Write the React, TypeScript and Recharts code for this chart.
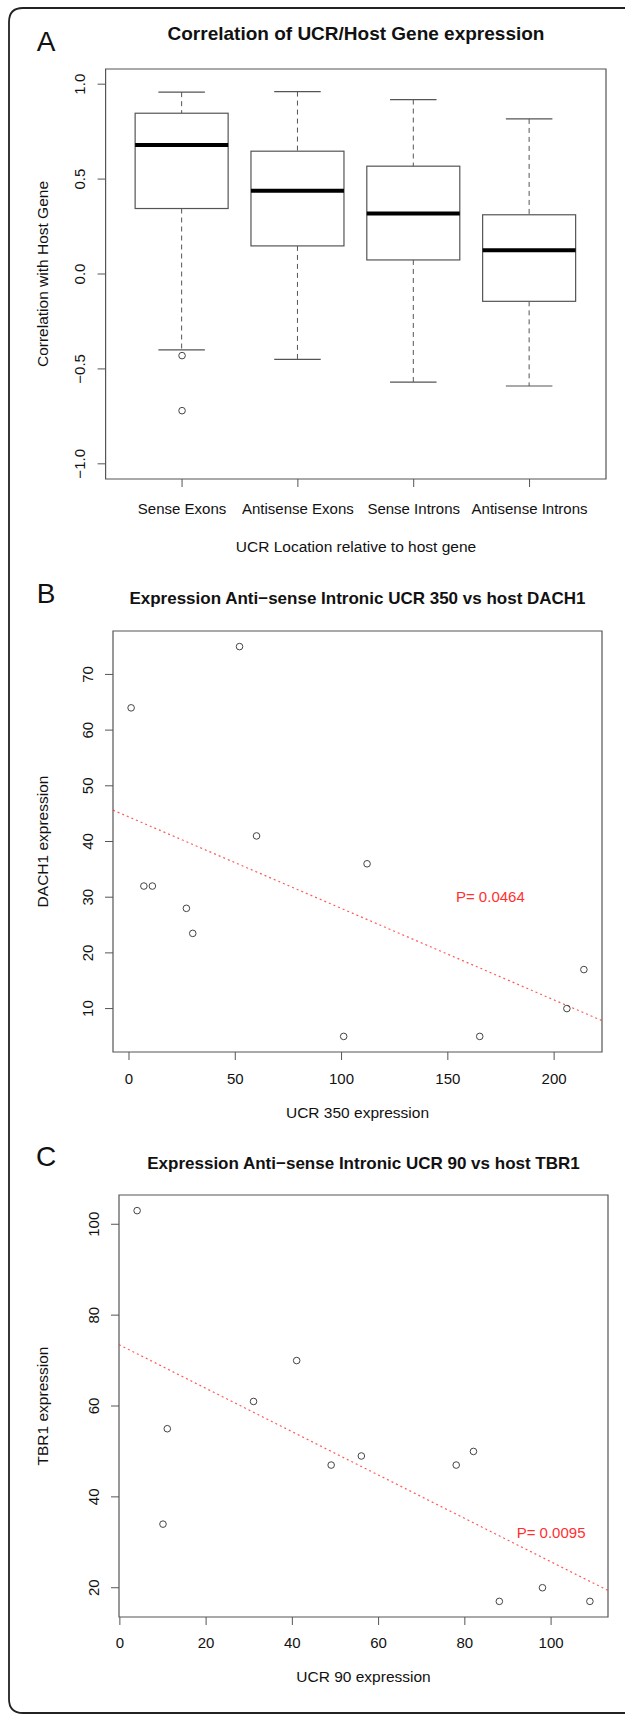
import React from "react";
import {
  ComposedChart,
  ScatterChart,
  Bar,
  Scatter,
  XAxis,
  YAxis,
  ReferenceArea,
  ReferenceLine,
  ReferenceDot,
} from "recharts";

const FONT = "'Liberation Sans', Arial, Helvetica, sans-serif";
const INK = "#111";
const FRAME = "#555";
const RED = "#ff3030";
const TICK_SIZE = 15;
const LABEL_SIZE = 15.5;

// panel A: correlation with host gene, by UCR location
const locations = ["Sense Exons", "Antisense Exons", "Sense Introns", "Antisense Introns"];
const whiskerLow = [-0.4, -0.45, -0.57, -0.59];
const quartile1 = [0.345, 0.148, 0.074, -0.144];
const medians = [0.68, 0.438, 0.319, 0.125];
const quartile3 = [0.847, 0.647, 0.568, 0.312];
const whiskerHigh = [0.958, 0.961, 0.919, 0.817];
const outlierGroup = [1, 1];
const outlierCorr = [-0.43, -0.72];
const corrTicks = [-1, -0.5, 0, 0.5, 1];

// panel B: UCR 350 vs DACH1
const ucr350 = [1, 52, 60, 112, 7, 11, 27, 30, 101, 165, 206, 214];
const dach1 = [64, 75, 41, 36, 32, 32, 28, 23.5, 5, 5, 10, 17];
const ucr350Ticks = [0, 50, 100, 150, 200];
const dach1Ticks = [10, 20, 30, 40, 50, 60, 70];
const fitB = { intercept: 44.4, slope: -0.1643 };
const pB = { label: "P= 0.0464", x: 170, y: 30 };

// panel C: UCR 90 vs TBR1
const ucr90 = [4, 41, 31, 11, 49, 56, 78, 82, 10, 88, 98, 109];
const tbr1 = [103, 70, 61, 55, 47, 49, 47, 50, 34, 17, 20, 17];
const ucr90Ticks = [0, 20, 40, 60, 80, 100];
const tbr1Ticks = [20, 40, 60, 80, 100];
const fitC = { intercept: 73.4, slope: -0.477 };
const pC = { label: "P= 0.0095", x: 100, y: 32 };

// R pads the axis range by 4% on each side
const rRange = (vals: number[]): [number, number] => {
  const lo = Math.min(...vals);
  const hi = Math.max(...vals);
  const pad = (hi - lo) * 0.04;
  return [lo - pad, hi + pad];
};

const minus = (s: string) => s.replace("-", "\u2212");

const boxRows = locations.map((name, i) => ({
  pos: i + 1,
  name,
  low: whiskerLow[i],
  q1: quartile1[i],
  med: medians[i],
  q3: quartile3[i],
  high: whiskerHigh[i],
}));
const outlierRows = outlierGroup.map((g, i) => ({ pos: g, corr: outlierCorr[i] }));

const SideTick = (props: any) => {
  const { x, y, payload, fmt } = props;
  return (
    <text
      x={x}
      y={y}
      transform={`rotate(-90 ${x} ${y})`}
      textAnchor="middle"
      fontFamily={FONT}
      fontSize={TICK_SIZE}
      fill={INK}
    >
      {fmt(payload.value)}
    </text>
  );
};

const BottomTick = (props: any) => {
  const { x, y, payload, fmt } = props;
  return (
    <text x={x} y={y} dy="0.71em" textAnchor="middle" fontFamily={FONT} fontSize={TICK_SIZE} fill={INK}>
      {fmt(payload.value)}
    </text>
  );
};

const BoxShape = (props: any) => {
  const { x, y, width, height, payload } = props;
  const top = Math.min(y, y + height);
  const bot = Math.max(y, y + height);
  const span = payload.high - payload.low;
  const py = (v: number) => top + ((payload.high - v) / span) * (bot - top);
  const cx = x + width / 2;
  const cap = width / 4;
  return (
    <g>
      <line x1={cx} x2={cx} y1={py(payload.high)} y2={py(payload.q3)} stroke={FRAME} strokeDasharray="5 4" />
      <line x1={cx} x2={cx} y1={py(payload.q1)} y2={py(payload.low)} stroke={FRAME} strokeDasharray="5 4" />
      <line x1={cx - cap} x2={cx + cap} y1={py(payload.high)} y2={py(payload.high)} stroke={FRAME} strokeWidth={1.2} />
      <line x1={cx - cap} x2={cx + cap} y1={py(payload.low)} y2={py(payload.low)} stroke={FRAME} strokeWidth={1.2} />
      <rect
        x={x}
        y={py(payload.q3)}
        width={width}
        height={py(payload.q1) - py(payload.q3)}
        fill="#fff"
        stroke={FRAME}
        strokeWidth={1.2}
      />
      <line x1={x} x2={x + width} y1={py(payload.med)} y2={py(payload.med)} stroke="#000" strokeWidth={4} />
    </g>
  );
};

const OpenCircle = (props: any) => (
  <circle cx={props.cx} cy={props.cy} r={3.3} fill="none" stroke="#444" strokeWidth={1} />
);

const PLabel = (text: string) => (props: any) => (
  <text x={props.cx} y={props.cy} dy="0.35em" textAnchor="middle" fontFamily={FONT} fontSize={TICK_SIZE} fill={RED}>
    {text}
  </text>
);

function BoxPanel() {
  const yDom: [number, number] = [-1.08, 1.08];
  const xDom: [number, number] = [0.34, 4.66];
  return (
    <ComposedChart
      width={625}
      height={540}
      data={boxRows}
      margin={{ top: 69, right: 19, bottom: 0, left: 0 }}
    >
      <XAxis
        type="number"
        dataKey="pos"
        domain={xDom}
        ticks={[1, 2, 3, 4]}
        allowDataOverflow
        height={61}
        axisLine={false}
        tickSize={8}
        tickMargin={16}
        tickLine={{ stroke: FRAME }}
        tick={(p: any) => <BottomTick {...p} fmt={(v: number) => locations[v - 1]} />}
      />
      <YAxis
        type="number"
        domain={yDom}
        ticks={corrTicks}
        allowDataOverflow
        width={105.6}
        axisLine={false}
        tickSize={8}
        tickMargin={13}
        tickLine={{ stroke: FRAME }}
        tick={(p: any) => <SideTick {...p} fmt={(v: number) => minus(v.toFixed(1))} />}
      />
      <ReferenceArea
        x1={xDom[0]}
        x2={xDom[1]}
        y1={yDom[0]}
        y2={yDom[1]}
        fill="none"
        stroke={FRAME}
        strokeWidth={1.2}
        ifOverflow="visible"
      />
      <Bar
        dataKey={(d: any) => [d.low, d.high]}
        barSize={93}
        shape={BoxShape}
        isAnimationActive={false}
      />
      <Scatter data={outlierRows} dataKey="corr" shape={OpenCircle} isAnimationActive={false} />
    </ComposedChart>
  );
}

function ScatterPanel(props: {
  xs: number[];
  ys: number[];
  xTicks: number[];
  yTicks: number[];
  fit: { intercept: number; slope: number };
  p: { label: string; x: number; y: number };
  height: number;
  margin: { top: number; right: number; bottom: number; left: number };
  yAxisWidth: number;
  tickGapX: number;
}) {
  const { xs, ys, xTicks, yTicks, fit, p } = props;
  const xDom = rRange(xs);
  const yDom = rRange(ys);
  const rows = xs.map((x, i) => ({ x, y: ys[i] }));
  const line = [
    { x: xDom[0], y: fit.intercept + fit.slope * xDom[0] },
    { x: xDom[1], y: fit.intercept + fit.slope * xDom[1] },
  ];
  return (
    <ScatterChart width={625} height={props.height} margin={props.margin}>
      <XAxis
        type="number"
        dataKey="x"
        domain={xDom}
        ticks={xTicks}
        allowDataOverflow
        height={40}
        axisLine={false}
        tickSize={8}
        tickMargin={props.tickGapX}
        tickLine={{ stroke: FRAME }}
        tick={(t: any) => <BottomTick {...t} fmt={(v: number) => String(v)} />}
      />
      <YAxis
        type="number"
        dataKey="y"
        domain={yDom}
        ticks={yTicks}
        allowDataOverflow
        width={props.yAxisWidth}
        axisLine={false}
        tickSize={8}
        tickMargin={12}
        tickLine={{ stroke: FRAME }}
        tick={(t: any) => <SideTick {...t} fmt={(v: number) => String(v)} />}
      />
      <ReferenceArea
        x1={xDom[0]}
        x2={xDom[1]}
        y1={yDom[0]}
        y2={yDom[1]}
        fill="none"
        stroke={FRAME}
        strokeWidth={1.2}
        ifOverflow="visible"
      />
      <ReferenceLine
        segment={line}
        stroke={RED}
        strokeOpacity={0.8}
        strokeWidth={1.2}
        strokeDasharray="2 3"
        ifOverflow="visible"
      />
      <ReferenceDot x={p.x} y={p.y} r={0} shape={PLabel(p.label)} ifOverflow="visible" />
      <Scatter data={rows} shape={OpenCircle} isAnimationActive={false} />
    </ScatterChart>
  );
}

const txt = {
  fontFamily: FONT,
  fill: INK,
  textAnchor: "middle" as const,
  dominantBaseline: "central" as const,
};

export default function App() {
  return (
    <div style={{ position: "relative", width: 625, height: 1715, overflow: "hidden", background: "#fff" }}>
      <style>{"html,body{margin:0;padding:0;overflow:hidden;}"}</style>
      <div style={{ position: "absolute", left: 0, top: 0 }}>
        <BoxPanel />
      </div>
      <div style={{ position: "absolute", left: 0, top: 560 }}>
        <ScatterPanel
          xs={ucr350}
          ys={dach1}
          xTicks={ucr350Ticks}
          yTicks={dach1Ticks}
          fit={fitB}
          p={pB}
          height={532}
          margin={{ top: 71, right: 23, bottom: 0, left: 0 }}
          yAxisWidth={113}
          tickGapX={13}
        />
      </div>
      <div style={{ position: "absolute", left: 0, top: 1130 }}>
        <ScatterPanel
          xs={ucr90}
          ys={tbr1}
          xTicks={ucr90Ticks}
          yTicks={tbr1Ticks}
          fit={fitC}
          p={pC}
          height={527}
          margin={{ top: 65, right: 17, bottom: 0, left: 0 }}
          yAxisWidth={119}
          tickGapX={12}
        />
      </div>
      <svg
        width={625}
        height={1715}
        style={{ position: "absolute", left: 0, top: 0, pointerEvents: "none" }}
      >
        <path
          d="M 640 8 H 23 Q 9 8 9 22 V 1699 Q 9 1713 23 1713 H 640"
          fill="none"
          stroke="#222"
          strokeWidth={1.8}
        />
        <text {...txt} x={46} y={41} fontSize={28}>A</text>
        <text {...txt} x={356} y={33} fontSize={19} fontWeight="bold">
          Correlation of UCR/Host Gene expression
        </text>
        <text {...txt} x={42} y={274} fontSize={LABEL_SIZE} transform="rotate(-90 42 274)">
          Correlation with Host Gene
        </text>
        <text {...txt} x={356} y={546} fontSize={LABEL_SIZE}>UCR Location relative to host gene</text>

        <text {...txt} x={46} y={593} fontSize={28}>B</text>
        <text {...txt} x={357.5} y={598} fontSize={17} fontWeight="bold">
          Expression Anti{"\u2212"}sense Intronic UCR 350 vs host DACH1
        </text>
        <text {...txt} x={42} y={841.5} fontSize={LABEL_SIZE} transform="rotate(-90 42 841.5)">
          DACH1 expression
        </text>
        <text {...txt} x={357.5} y={1112} fontSize={LABEL_SIZE}>UCR 350 expression</text>

        <text {...txt} x={46} y={1156} fontSize={28}>C</text>
        <text {...txt} x={363.5} y={1163} fontSize={17} fontWeight="bold">
          Expression Anti{"\u2212"}sense Intronic UCR 90 vs host TBR1
        </text>
        <text {...txt} x={42} y={1406} fontSize={LABEL_SIZE} transform="rotate(-90 42 1406)">
          TBR1 expression
        </text>
        <text {...txt} x={363.5} y={1676} fontSize={LABEL_SIZE}>UCR 90 expression</text>
      </svg>
    </div>
  );
}
